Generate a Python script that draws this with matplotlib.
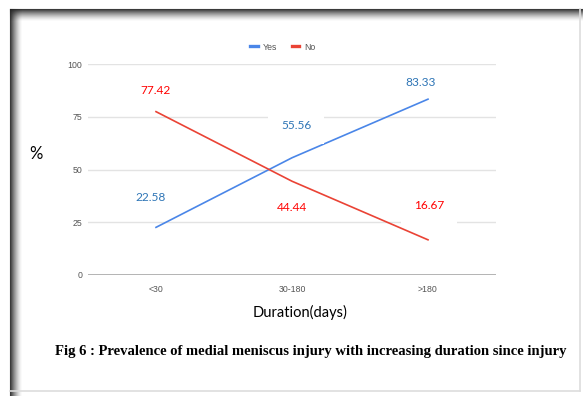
import matplotlib
matplotlib.use("Agg")
import matplotlib.pyplot as plt
from matplotlib.lines import Line2D

categories = ["<30", "30-180", ">180"]
yes_pct = [22.58, 55.56, 83.33]
no_pct = [77.42, 44.44, 16.67]
y_ticks = [0, 25, 50, 75, 100]

W, H = 583, 396

# where each value label sits relative to its point, in pixels
yes_offsets = [(-5, 30), (4, 32), (-7, 17)]
no_offsets = [(-1, 21), (0, -26), (1, 34)]
# labels that sit on a white box and cut the gridline behind them
boxed = {("yes", 1), ("no", 2)}

LINE_BLUE = "#4a86e8"
LINE_RED = "#ea4335"
TEXT_BLUE = "#2e75b6"
TEXT_RED = "#ff0000"

plt.rcParams["font.family"] = ["Liberation Sans", "DejaVu Sans"]


def px(x, y):
    return x / W, 1 - y / H


def draw_frame(fig):
    # dark top and left edges with a soft shadow falling inward
    for i in range(12):
        a = 0.9 * (1 - i / 12) ** 1.6
        c = (0.15, 0.15, 0.15, a)
        fig.add_artist(Line2D([px(10, 9 + i)[0], 1], [px(10, 9 + i)[1]] * 2,
                              transform=fig.transFigure, color=c, lw=0.8))
        fig.add_artist(Line2D([px(10 + i, 9)[0]] * 2, [px(10, 9)[1], 0],
                              transform=fig.transFigure, color=c, lw=0.8))
    fig.add_artist(Line2D([1 - 3 / W] * 2, [px(0, 9)[1], px(0, 391)[1]],
                          transform=fig.transFigure, color="#dddddd", lw=1.2))
    fig.add_artist(Line2D([px(10, 0)[0], 1 - 3 / W], [px(0, 391)[1]] * 2,
                          transform=fig.transFigure, color="#dddddd", lw=1.2))


def main():
    fig = plt.figure(figsize=(W / 100, H / 100), dpi=100)
    fig.patch.set_facecolor("white")
    ax = fig.add_axes([88 / W, 1 - 275 / H, 408 / W, 211 / H])

    x = list(range(len(categories)))
    ax.plot(x, yes_pct, color=LINE_BLUE, lw=1.2, label="Yes", zorder=3)
    ax.plot(x, no_pct, color=LINE_RED, lw=1.2, label="No", zorder=3)

    for name, vals, offs, col in [("yes", yes_pct, yes_offsets, TEXT_BLUE),
                                  ("no", no_pct, no_offsets, TEXT_RED)]:
        for i, (v, off) in enumerate(zip(vals, offs)):
            box = None
            if (name, i) in boxed:
                box = dict(facecolor="white", edgecolor="none", pad=9)
            ax.annotate(f"{v:.2f}", (x[i], v), xytext=off,
                        textcoords="offset pixels", ha="center", va="center",
                        fontsize=8.6, color=col, family="Lato", bbox=box,
                        zorder=4)

    ax.set_xlim(-0.5, 2.5)
    ax.set_ylim(0, 100)
    ax.set_yticks(y_ticks)
    ax.set_xticks(x)
    ax.set_xticklabels(categories)
    ax.tick_params(length=0, labelsize=6.3, labelcolor="#555555")
    ax.tick_params(axis="x", pad=7)
    ax.tick_params(axis="y", pad=4)
    ax.grid(axis="y", color="#e3e3e3", lw=1.0, zorder=0)
    ax.axhline(0, color="#999999", lw=1.2, zorder=1)
    for s in ax.spines.values():
        s.set_visible(False)

    ax.legend(loc="center", bbox_to_anchor=(px(283, 47)), bbox_transform=fig.transFigure,
              ncol=2, frameon=False, fontsize=6.3, labelcolor="#555555",
              handlelength=0.9, handletextpad=0.6, columnspacing=1.6)
    for h in ax.get_legend().get_lines():
        h.set_linewidth(2.4)

    fig.text(*px(36, 154), "%", fontsize=12, family="Lato", ha="center", va="center")
    fig.text(*px(300, 312), "Duration(days)", fontsize=10.5, family="Lato",
             ha="center", va="center")
    fig.text(*px(311, 351),
             "Fig 6 : Prevalence of medial meniscus injury with increasing duration since injury",
             fontsize=10.5, family="Liberation Serif", weight="bold",
             ha="center", va="center")

    draw_frame(fig)
    fig.savefig("out.png", dpi=100)


if __name__ == "__main__":
    main()
